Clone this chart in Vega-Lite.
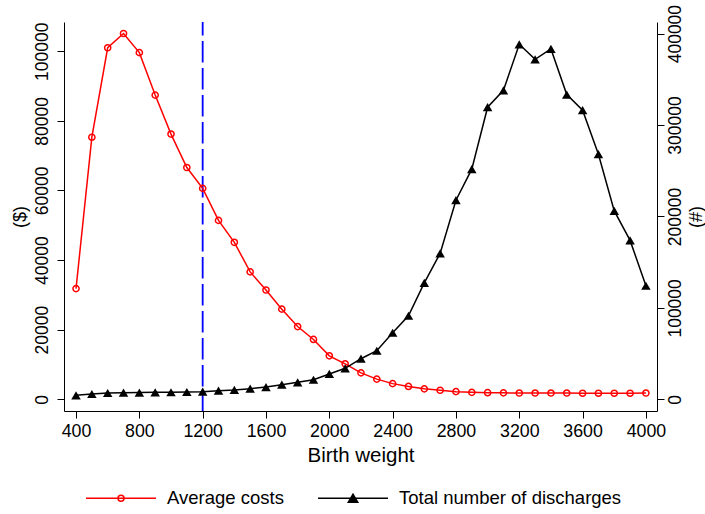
{
  "$schema": "https://vega.github.io/schema/vega-lite/v6.json",
  "width": 593,
  "height": 389,
  "autosize": {"type": "none"},
  "padding": {"left": 64, "top": 22, "right": 48, "bottom": 103},
  "background": "white",
  "config": {
    "font": "Liberation Sans",
    "view": {"stroke": null},
    "axis": {
      "grid": false,
      "domainColor": "black",
      "tickColor": "black",
      "labelColor": "black",
      "titleColor": "black",
      "titleFontWeight": "normal",
      "tickSize": 7,
      "domainWidth": 1,
      "tickWidth": 1,
      "labelFlush": false,
      "labelOverlap": false
    }
  },
  "datasets": {
    "main": [
      {"bw": 400, "cost": 31800, "discharges": 4400},
      {"bw": 500, "cost": 75300, "discharges": 5800},
      {"bw": 600, "cost": 101000, "discharges": 6900},
      {"bw": 700, "cost": 105100, "discharges": 7200},
      {"bw": 800, "cost": 99600, "discharges": 7300},
      {"bw": 900, "cost": 87400, "discharges": 7600},
      {"bw": 1000, "cost": 76200, "discharges": 7700},
      {"bw": 1100, "cost": 66600, "discharges": 8000},
      {"bw": 1200, "cost": 60600, "discharges": 8300},
      {"bw": 1300, "cost": 51400, "discharges": 9400},
      {"bw": 1400, "cost": 45100, "discharges": 10300},
      {"bw": 1500, "cost": 36600, "discharges": 11600},
      {"bw": 1600, "cost": 31400, "discharges": 13400},
      {"bw": 1700, "cost": 25900, "discharges": 16000},
      {"bw": 1800, "cost": 20900, "discharges": 18600},
      {"bw": 1900, "cost": 17200, "discharges": 21400},
      {"bw": 2000, "cost": 12500, "discharges": 27700},
      {"bw": 2100, "cost": 10200, "discharges": 33900},
      {"bw": 2200, "cost": 7600, "discharges": 44400},
      {"bw": 2300, "cost": 5800, "discharges": 53100},
      {"bw": 2400, "cost": 4500, "discharges": 72800},
      {"bw": 2500, "cost": 3700, "discharges": 91400},
      {"bw": 2600, "cost": 3000, "discharges": 127400},
      {"bw": 2700, "cost": 2600, "discharges": 159600},
      {"bw": 2800, "cost": 2200, "discharges": 217800},
      {"bw": 2900, "cost": 2000, "discharges": 251700},
      {"bw": 3000, "cost": 1900, "discharges": 319500},
      {"bw": 3100, "cost": 1850, "discharges": 338000},
      {"bw": 3200, "cost": 1800, "discharges": 388300},
      {"bw": 3300, "cost": 1800, "discharges": 371900},
      {"bw": 3400, "cost": 1800, "discharges": 383200},
      {"bw": 3500, "cost": 1800, "discharges": 333300},
      {"bw": 3600, "cost": 1750, "discharges": 316200},
      {"bw": 3700, "cost": 1750, "discharges": 268100},
      {"bw": 3800, "cost": 1750, "discharges": 206100},
      {"bw": 3900, "cost": 1750, "discharges": 173800},
      {"bw": 4000, "cost": 1800, "discharges": 124200}
    ],
    "cutoff": [{"bw": 1200}],
    "series": [{"series": "Average costs"}, {"series": "Total number of discharges"}]
  },
  "layer": [
    {
      "data": {"name": "cutoff"},
      "mark": {"type": "rule", "color": "#0000ff", "strokeWidth": 1.8, "strokeDash": [21.5, 5.5], "strokeDashOffset": 8},
      "encoding": {
        "x": {"field": "bw", "type": "quantitative", "scale": {"domain": [324, 4070], "nice": false, "zero": false},
          "axis": {"title": "Birth weight", "values": [400, 800, 1200, 1600, 2000, 2400, 2800, 3200, 3600, 4000], "format": "d", "labelFontSize": 17.8, "titleFontSize": 20.5, "labelPadding": 4, "titlePadding": 6}}
      }
    },
    {
      "data": {"name": "main"},
      "encoding": {
        "x": {"field": "bw", "type": "quantitative", "scale": {"domain": [324, 4070], "nice": false, "zero": false},
          "axis": {"title": "Birth weight", "values": [400, 800, 1200, 1600, 2000, 2400, 2800, 3200, 3600, 4000], "format": "d", "labelFontSize": 17.8, "titleFontSize": 20.5, "labelPadding": 4, "titlePadding": 6}},
        "y": {"field": "cost", "type": "quantitative", "scale": {"domain": [-3360, 108400], "nice": false, "zero": false},
          "axis": {"orient": "left", "title": "($)", "values": [0, 20000, 40000, 60000, 80000, 100000], "format": "d", "labelAngle": -90, "labelAlign": "center", "labelBaseline": "alphabetic", "labelPadding": 9.5, "labelFontSize": 17.5, "titleFontSize": 18, "titleAngle": -90, "titlePadding": 4}}
      },
      "layer": [
        {"mark": {"type": "line", "color": "#ff0000", "strokeWidth": 1.5}},
        {"mark": {"type": "point", "shape": "circle", "filled": false, "color": "#ff0000", "size": 38, "strokeWidth": 1.5, "opacity": 1}}
      ]
    },
    {
      "data": {"name": "main"},
      "encoding": {
        "x": {"field": "bw", "type": "quantitative", "scale": {"domain": [324, 4070], "nice": false, "zero": false},
          "axis": {"title": "Birth weight", "values": [400, 800, 1200, 1600, 2000, 2400, 2800, 3200, 3600, 4000], "format": "d", "labelFontSize": 17.8, "titleFontSize": 20.5, "labelPadding": 4, "titlePadding": 6}},
        "y": {"field": "discharges", "type": "quantitative", "scale": {"domain": [-12800, 412700], "nice": false, "zero": false},
          "axis": {"orient": "right", "title": "(#)", "values": [0, 100000, 200000, 300000, 400000], "format": "d", "labelAngle": -90, "labelAlign": "center", "labelBaseline": "top", "labelPadding": 2.5, "labelFontSize": 17.5, "titleFontSize": 18, "titleAngle": -90, "titleBaseline": "top", "titlePadding": 3}}
      },
      "layer": [
        {"mark": {"type": "line", "color": "black", "strokeWidth": 1.5}},
        {"mark": {"type": "point", "shape": "triangle-up", "filled": true, "color": "black", "size": 90, "opacity": 1}}
      ]
    },
    {
      "data": {"name": "series"},
      "mark": {"type": "point", "opacity": 0, "filled": true},
      "encoding": {
        "color": {"field": "series", "type": "nominal",
          "scale": {"domain": ["Average costs", "Total number of discharges"], "range": ["#ff0000", "black"]},
          "legend": {"title": null, "orient": "none", "legendX": 21, "legendY": 440, "direction": "horizontal", "symbolSize": 4900, "symbolStrokeWidth": 1.5, "symbolOpacity": 1, "labelFontSize": 18.5, "labelColor": "black", "labelOffset": 10, "columnPadding": 31, "labelLimit": 400,
            "encode": {"symbols": {"update": {
              "stroke": {"signal": "datum.value === 'Average costs' ? '#ff0000' : 'black'"},
              "strokeWidth": {"value": 1.5}, "opacity": {"value": 1}}}}}},
        "shape": {"field": "series", "type": "nominal",
          "scale": {"domain": ["Average costs", "Total number of discharges"], "range": ["M-1,0H1M0.0857,0A0.0857,0.0857,0,1,1,-0.0857,0A0.0857,0.0857,0,1,1,0.0857,0ZM0.0857,0A0.0857,0.0857,0,1,0,-0.0857,0A0.0857,0.0857,0,1,0,0.0857,0Z", "M-1,0H1M-0.136,0.117L0,-0.117L0.136,0.117Z"]},
          "legend": {"title": null, "orient": "none", "legendX": 21, "legendY": 440, "direction": "horizontal", "symbolSize": 4900, "symbolStrokeWidth": 1.5, "symbolOpacity": 1, "labelFontSize": 18.5, "labelColor": "black", "labelOffset": 10, "columnPadding": 31, "labelLimit": 400,
            "encode": {"symbols": {"update": {
              "stroke": {"signal": "datum.value === 'Average costs' ? '#ff0000' : 'black'"},
              "strokeWidth": {"value": 1.5}, "opacity": {"value": 1}}}}}}
      }
    }
  ],
  "resolve": {"scale": {"y": "independent"}}
}
